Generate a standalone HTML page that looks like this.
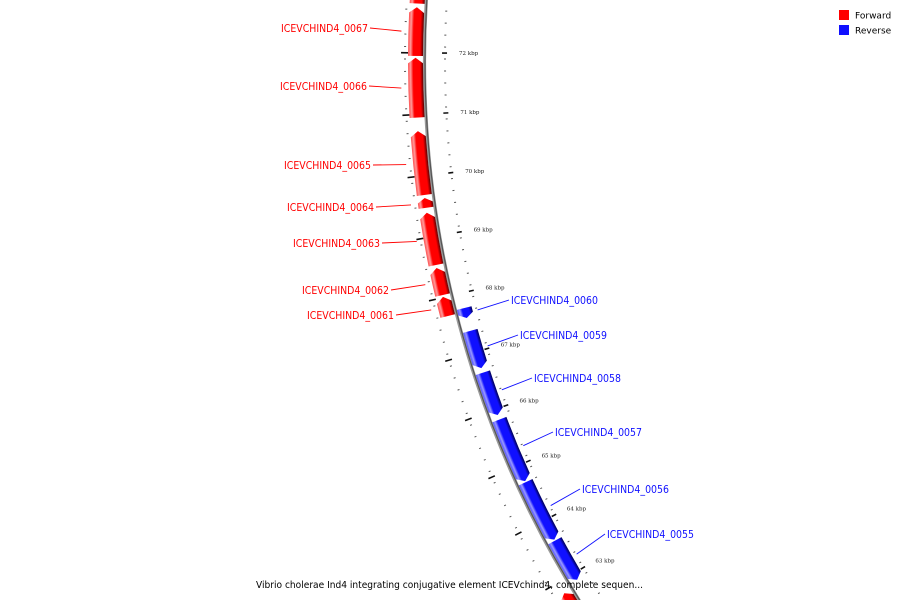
<!DOCTYPE html>
<html><head><meta charset="utf-8"><style>
html,body{margin:0;padding:0;background:#fff;width:900px;height:600px;overflow:hidden;}
svg{display:block;}
</style></head><body>
<svg id="map" width="900" height="600" viewBox="0 0 900 600" xmlns="http://www.w3.org/2000/svg">
<defs>
<radialGradient id="gradF" gradientUnits="userSpaceOnUse" cx="1442" cy="61" r="1034">
<stop offset="0.9855" stop-color="#600000"/>
<stop offset="0.9885" stop-color="#ff0000"/>
<stop offset="0.9950" stop-color="#ff0000"/>
<stop offset="0.9975" stop-color="#ff9a9a"/>
<stop offset="1" stop-color="#ff5050"/>
</radialGradient>
<radialGradient id="gradR" gradientUnits="userSpaceOnUse" cx="1442" cy="61" r="1016">
<stop offset="0.9855" stop-color="#000060"/>
<stop offset="0.9885" stop-color="#1010ff"/>
<stop offset="0.9950" stop-color="#1010ff"/>
<stop offset="0.9975" stop-color="#9a9aff"/>
<stop offset="1" stop-color="#5050ff"/>
</radialGradient>
</defs>
<g id="ticks"></g>
<g id="backbone"></g>
<g id="genes"></g>
<g id="labels"></g>
<g>
<rect x="839" y="10" width="10" height="10" fill="#ff0000"/>
<text x="855" y="18.5" font-family="DejaVu Sans, sans-serif" font-size="9" fill="#000">Forward</text>
<rect x="839" y="25" width="10" height="10" fill="#1010ff"/>
<text x="855" y="33.5" font-family="DejaVu Sans, sans-serif" font-size="9" fill="#000">Reverse</text>
</g>
<text x="256" y="588" textLength="387" lengthAdjust="spacingAndGlyphs" font-family="DejaVu Sans, sans-serif" font-size="10" fill="#000">Vibrio cholerae Ind4 integrating conjugative element ICEVchind4, complete sequen...</text>
</svg>
<script>
// gene data (kbp)
const geneNames = ["", "ICEVCHIND4_0067","ICEVCHIND4_0066","ICEVCHIND4_0065","ICEVCHIND4_0064","ICEVCHIND4_0063","ICEVCHIND4_0062","ICEVCHIND4_0061","ICEVCHIND4_0060","ICEVCHIND4_0059","ICEVCHIND4_0058","ICEVCHIND4_0057","ICEVCHIND4_0056","ICEVCHIND4_0055",""];
const geneStarts = [72.80, 71.95, 70.95, 69.69, 69.48, 68.54, 68.04, 67.69, 67.58, 66.72, 65.90, 64.72, 63.64, 62.88, 62.10];
const geneEnds   = [73.60, 72.74, 71.92, 70.73, 69.64, 69.40, 68.49, 68.01, 67.75, 67.36, 66.64, 65.82, 64.70, 63.62, 62.80];
const geneStrands = [1,1,1,1,1,1,1,1,-1,-1,-1,-1,-1,-1,1];
const tickKbp = [62,63,64,65,66,67,68,69,70,71,72,73];
const tickLabels = ["62 kbp","63 kbp","64 kbp","65 kbp","66 kbp","67 kbp","68 kbp","69 kbp","70 kbp","71 kbp","72 kbp","73 kbp"];

// layout (label anchor positions)
const labelX = [0,368,367,371,374,380,389,394,511,520,534,555,582,607,0];
const labelY = [0,28,86,165,207,243,290,315,300,335,378,432,489,534,0];

const CX=1442, CY=61;
const A0=149.46, DEG_PER_KBP=3.444;
const NS="http://www.w3.org/2000/svg";
function ang(k){return (A0+(k-63)*DEG_PER_KBP)*Math.PI/180;}
function pt(R,k){const a=ang(k);return [CX+R*Math.cos(a),CY+R*Math.sin(a)];}
function mk(tag,attrs,parent){const e=document.createElementNS(NS,tag);for(const k in attrs)e.setAttribute(k,attrs[k]);parent.appendChild(e);return e;}
function arcPath(R,k1,k2){const p=pt(R,k2);const sweep=k2>k1?1:0;return `A ${R} ${R} 0 0 ${sweep} ${p[0].toFixed(2)} ${p[1].toFixed(2)}`;}

// ticks
const tg=document.getElementById('ticks');
for(let i=615;i<=735;i+=2){
  const k=i/10; if(i%10===0) continue;
  const a=pt(996,k),b=pt(998,k);
  const t=mk('line',{x1:a[0],y1:a[1],x2:b[0],y2:b[1],stroke:'#555','stroke-width':1},tg);
  
  
  const c=pt(1036,k),d=pt(1038,k);
  const t2=mk('line',{x1:c[0],y1:c[1],x2:d[0],y2:d[1],stroke:'#555','stroke-width':1},tg);
  
  
}
tickKbp.forEach((k,i)=>{
  const a=pt(995,k),b=pt(1000,k);
  const t=mk('line',{x1:a[0],y1:a[1],x2:b[0],y2:b[1],stroke:'#111','stroke-width':1.6},tg);
  
  
  const c=pt(1034,k),d=pt(1041,k);
  const t2=mk('line',{x1:c[0],y1:c[1],x2:d[0],y2:d[1],stroke:'#111','stroke-width':1.6},tg);
  
  
  const p=pt(983,k);
  const tx=mk('text',{x:p[0],y:p[1]+2,'font-family':'DejaVu Serif, serif','font-size':'5.5',fill:'#222'},tg);
  tx.textContent=tickLabels[i];
  
  
});

// backbone
const bg=document.getElementById('backbone');
const b1=pt(1017.5,61);
const bb=mk('path',{d:`M ${b1[0]} ${b1[1]} ${arcPath(1017.5,61,74)}`,fill:'none',stroke:'#9a9a9a','stroke-width':3.2},bg);


const bb2=mk('path',{d:`M ${pt(1017,61).join(' ')} ${arcPath(1017,61,74)}`,fill:'none',stroke:'#555','stroke-width':1.2},bg);



// genes
const gg=document.getElementById('genes');
const lg=document.getElementById('labels');
geneStarts.forEach((s,i)=>{
  const e=geneEnds[i], fwd=geneStrands[i]>0;
  const Ro=fwd?1034:1016, Ri=fwd?1019:1001, Rm=(Ro+Ri)/2;
  const len=e-s, tip=Math.min(0.09,len*0.45);
  let d;
  if(fwd){
    const p1=pt(Ro,s), pt3=pt(Rm,e), p4=pt(Ri,e-tip);
    d=`M ${p1.join(' ')} ${arcPath(Ro,s,e-tip)} L ${pt3.join(' ')} L ${p4.join(' ')} ${arcPath(Ri,e-tip,s)} Z`;
  } else {
    const p1=pt(Ro,e), pt3=pt(Rm,s), p4=pt(Ri,s+tip);
    d=`M ${p1.join(' ')} ${arcPath(Ro,e,s+tip)} L ${pt3.join(' ')} L ${p4.join(' ')} ${arcPath(Ri,s+tip,e)} Z`;
  }
  const g=mk('path',{d:d,fill:fwd?'url(#gradF)':'url(#gradR)'},gg);
  
  
  if(geneNames[i]){
    const mid=(s+e)/2;
    const col=fwd?'#ff0000':'#1010ff';
    const q=pt(fwd?1041:996,mid);
    const lx=fwd?labelX[i]+2:labelX[i]-2;
    const ln=mk('line',{x1:lx,y1:labelY[i],x2:q[0],y2:q[1],stroke:col,'stroke-width':0.9},lg);
    
    
    const tx=mk('text',{x:labelX[i],y:labelY[i]+4,'text-anchor':fwd?'end':'start',textLength:87,lengthAdjust:'spacingAndGlyphs','font-family':'DejaVu Sans, sans-serif','font-size':'11',fill:col},lg);
    tx.textContent=geneNames[i];
    
    
  }
});
</script>
</body></html>
